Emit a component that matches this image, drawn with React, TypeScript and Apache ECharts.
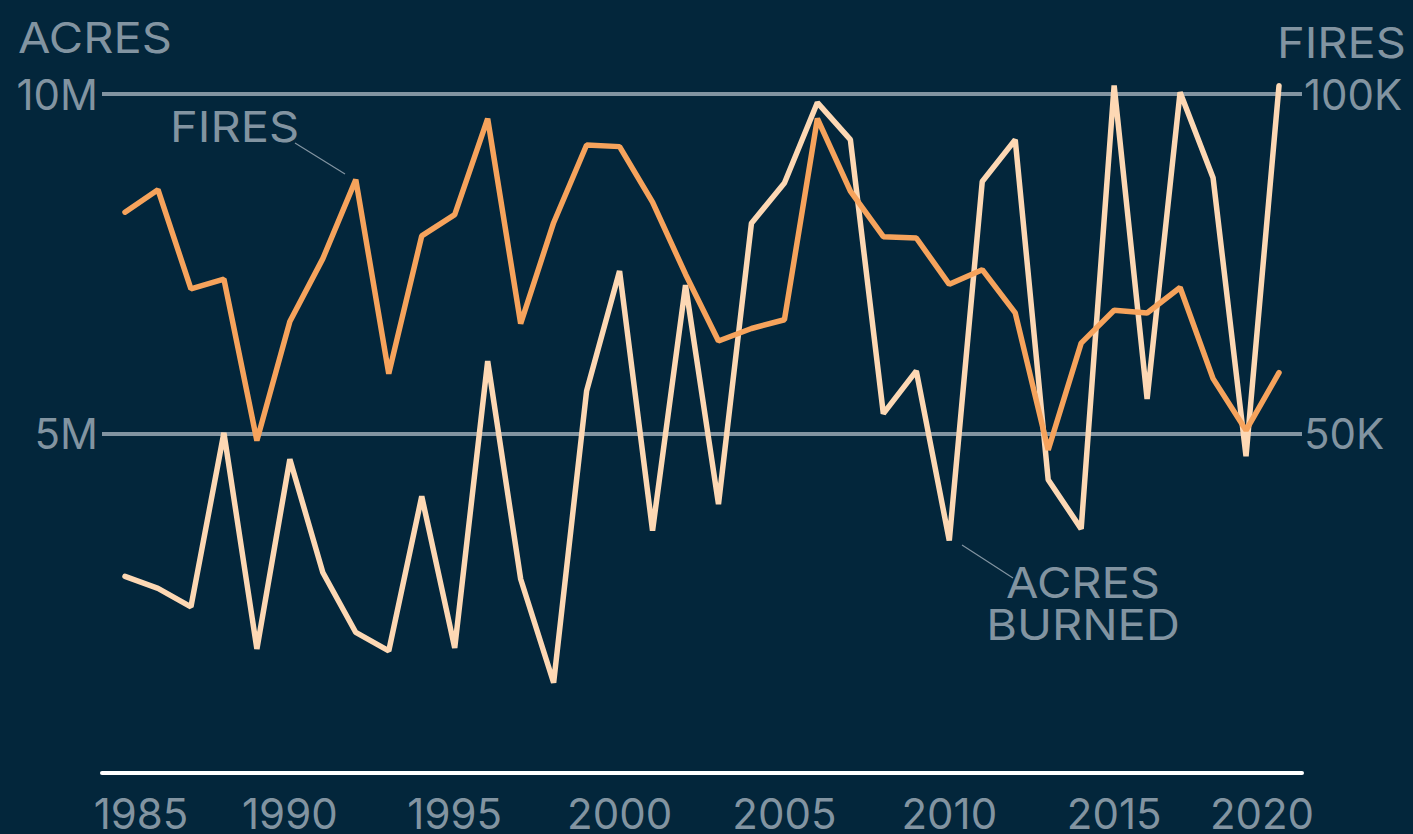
import React, { useEffect, useRef } from "react";
import * as echarts from "echarts";

const years = [
  1985, 1986, 1987, 1988, 1989, 1990, 1991, 1992, 1993, 1994, 1995, 1996,
  1997, 1998, 1999, 2000, 2001, 2002, 2003, 2004, 2005, 2006, 2007, 2008,
  2009, 2010, 2011, 2012, 2013, 2014, 2015, 2016, 2017, 2018, 2019, 2020,
];
const fires = [
  82591, 85907, 71300, 72750, 48949, 66481, 75754, 87394, 58810, 79107, 82234,
  96363, 66196, 81043, 92487, 92250, 84079, 73457, 63629, 65461, 66753, 96385,
  85705, 78979, 78792, 71971, 74126, 67774, 47579, 63312, 68151, 67743, 71499,
  58083, 50477, 58950,
];
const acres = [
  2896147, 2719162, 2447296, 5009290, 1827310, 4621621, 2953578, 2069929,
  1797574, 4073579, 1840546, 6065998, 2856959, 1329704, 5626093, 7393493,
  3570911, 7184712, 3960842, 8097880, 8689389, 9873745, 9328045, 5292468,
  5921786, 3422724, 8711367, 9326238, 4319546, 3595613, 10125149, 5509995,
  10026086, 8767492, 4664364, 10122336,
];
const xTicks = [1985, 1990, 1995, 2000, 2005, 2010, 2015, 2020];

const BG = "#03263b";
const GRAY = "#8294a1";
const FONT = "Inter";
const FS = 42;
const WIDE = 1.12;

export default function App() {
  const ref = useRef<HTMLDivElement>(null);
  useEffect(() => {
    if (!ref.current) return;
    const chart = echarts.init(ref.current, null, { renderer: "svg" });
    const labelStyle = { fontFamily: FONT, fontSize: FS, color: GRAY };
    const txt = (text: string, x: number, y: number, align: string, extra: any = {}) => ({
      type: "text",
      x,
      y,
      scaleX: WIDE,
      style: {
        text,
        fill: GRAY,
        font: `${FS}px ${FONT}`,
        align,
        verticalAlign: "top",
        ...extra,
      },
    });
    chart.setOption({
      animation: false,
      backgroundColor: BG,
      grid: { left: 102, right: 111, top: 94, bottom: 60, containLabel: false },
      xAxis: {
        type: "value",
        min: 1984.3024,
        max: 2020.6976,
        axisLine: { show: true, lineStyle: { color: "#ffffff", width: 4 } },
        axisTick: { show: false },
        splitLine: { show: false },
        axisLabel: {
          customValues: xTicks,
          margin: 19,
          ...labelStyle,
          formatter: (v: number) =>
            v === 1985 ? "{a|" + v + "}" : v === 2020 ? "{b|" + v + "}" : "{c|" + v + "}",
          rich: {
            a: { ...labelStyle, padding: [0, 0, 0, 32] },
            b: { ...labelStyle, padding: [0, 34, 0, 0] },
            c: { ...labelStyle },
          },
        },
      },
      yAxis: [
        {
          type: "value",
          min: 0,
          max: 10000000,
          interval: 5000000,
          position: "left",
          axisLine: { show: false },
          axisTick: { show: false },
          splitLine: { show: true, lineStyle: { color: GRAY, width: 4 } },
          axisLabel: {
            ...labelStyle,
            margin: 4,
            formatter: (v: number) => (v === 0 ? "" : v / 1000000 + "M"),
          },
        },
        {
          type: "value",
          min: 0,
          max: 100000,
          interval: 50000,
          position: "right",
          axisLine: { show: false },
          axisTick: { show: false },
          splitLine: { show: false },
          axisLabel: {
            ...labelStyle,
            margin: 2,
            formatter: (v: number) => (v === 0 ? "" : v / 1000 + "K"),
          },
        },
      ],
      series: [
        {
          name: "Acres burned",
          type: "line",
          yAxisIndex: 0,
          data: years.map((y, i) => [y, acres[i]]),
          showSymbol: false,
          symbol: "none",
          clip: false,
          lineStyle: { color: "#fdd8b4", width: 5.5, join: "bevel", cap: "round" },
        },
        {
          name: "Fires",
          type: "line",
          yAxisIndex: 1,
          data: years.map((y, i) => [y, fires[i]]),
          showSymbol: false,
          symbol: "none",
          clip: false,
          lineStyle: { color: "#f6a35c", width: 5.5, join: "bevel", cap: "round" },
        },
      ],
      graphic: [
        txt("ACRES", 18, 17, "left"),
        txt("FIRES", 1406, 22, "right"),
        txt("FIRES", 170, 106, "left"),
        {
          type: "line",
          shape: { x1: 295, y1: 143, x2: 345, y2: 174 },
          style: { stroke: GRAY, lineWidth: 1.2 },
        },
        txt("ACRES\nBURNED", 1083, 562, "center", { lineHeight: 42 }),
        {
          type: "line",
          shape: { x1: 962, y1: 545, x2: 1013, y2: 578 },
          style: { stroke: GRAY, lineWidth: 1.2 },
        },
      ],
    });
    return () => chart.dispose();
  }, []);
  return (
    <div
      ref={ref}
      style={{ position: "fixed", left: 0, top: 0, width: 1413, height: 834 }}
    />
  );
}
